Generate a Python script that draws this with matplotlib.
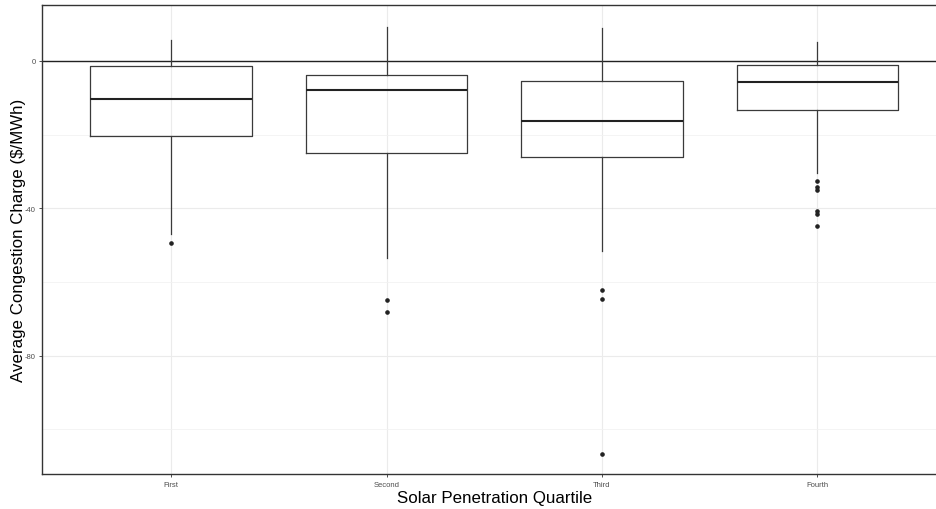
import matplotlib.pyplot as plt
from matplotlib.ticker import MultipleLocator

plt.rcParams['font.family'] = ['Liberation Sans', 'DejaVu Sans']
plt.rcParams['axes.unicode_minus'] = False

quartiles = ['First', 'Second', 'Third', 'Fourth']
whisker_hi = [5.8, 9.15, 8.9, 5.1]
q3 = [-1.45, -3.9, -5.5, -1.0]
median = [-10.2, -7.95, -16.3, -5.8]
q1 = [-20.3, -25.0, -26.0, -13.3]
whisker_lo = [-46.9, -53.6, -51.6, -30.5]
outliers = [
    [-49.5],
    [-64.9, -68.1],
    [-62.1, -64.6, -106.6],
    [-32.6, -34.3, -34.9, -40.6, -41.5, -44.7],
]

stats = []
for i, name in enumerate(quartiles):
    stats.append(dict(label=name, whislo=whisker_lo[i], q1=q1[i], med=median[i],
                      q3=q3[i], whishi=whisker_hi[i], fliers=outliers[i]))

fig = plt.figure(figsize=(9.36, 5.10), dpi=100)
ax = fig.add_axes([0.0449, 0.068, 0.9665, 0.9196])

line = '#3a3a3a'
ax.bxp(stats, positions=range(1, 5), widths=0.75, showcaps=False,
       boxprops=dict(color=line, linewidth=0.9),
       whiskerprops=dict(color=line, linewidth=0.9),
       medianprops=dict(color='#222222', linewidth=1.5),
       flierprops=dict(marker='o', markersize=2.3, markerfacecolor='#222222',
                       markeredgecolor='#222222'),
       zorder=3)

ax.axhline(0, color='#222222', linewidth=1.0, zorder=2)

ax.set_xlim(0.4, 4.6)
ax.set_ylim(-112.2, 15.1)
ax.set_xticks(range(1, 5))
ax.set_xticklabels(quartiles)
ax.yaxis.set_major_locator(MultipleLocator(40))
ax.yaxis.set_minor_locator(MultipleLocator(20))

ax.grid(True, which='major', color='#EBEBEB', linewidth=0.8, zorder=0)
ax.grid(True, which='minor', axis='y', color='#F2F2F2', linewidth=0.6, zorder=0)
ax.set_axisbelow(True)

ax.tick_params(axis='both', which='major', length=2.5, width=0.6, color='#333333',
               labelsize=5.5, labelcolor='#4D4D4D', pad=2)
ax.tick_params(axis='y', which='minor', length=0)

for s in ax.spines.values():
    s.set_color('#333333')
    s.set_linewidth(1.0)

ax.set_xlabel('Solar Penetration Quartile', fontsize=12.2, labelpad=2)
ax.set_ylabel('Average Congestion Charge ($/MWh)', fontsize=12.2)
ax.yaxis.set_label_coords(-0.0258, 0.5)
ax.yaxis.label.set_verticalalignment('center')

fig.savefig('out.png', dpi=100)
